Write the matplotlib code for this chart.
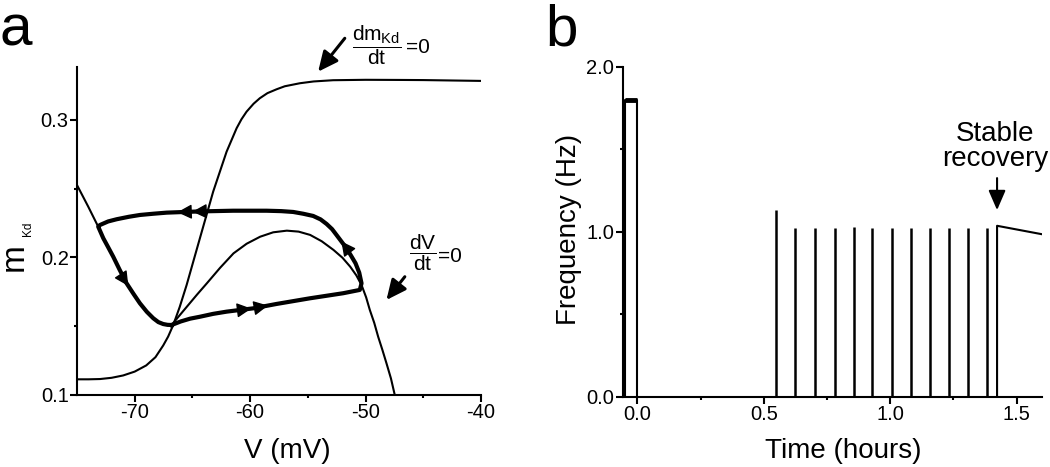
import numpy as np
import matplotlib
matplotlib.use('Agg')
import matplotlib.pyplot as plt
from matplotlib.ticker import FixedLocator

plt.rcParams['font.family'] = ['Liberation Sans', 'DejaVu Sans']
plt.rcParams['mathtext.fontset'] = 'custom'
plt.rcParams['mathtext.rm'] = 'Liberation Sans'
plt.rcParams['mathtext.it'] = 'Liberation Sans'
plt.rcParams['mathtext.sf'] = 'Liberation Sans'
plt.rcParams['mathtext.bf'] = 'Liberation Sans:bold'
plt.rcParams['axes.unicode_minus'] = False

# ---- panel a: phase plane (V in mV, m_Kd) ----
# dm_Kd/dt = 0 nullcline
mnull_v = [-75.0, -74.0, -73.0, -72.0, -71.0, -70.0, -69.0, -68.2, -67.53, -67.1, -66.66,
           -66.1, -65.50, -64.35, -63.20, -62.04, -61.17, -60.75, -60.31, -59.7, -59.16,
           -58.5, -57.71, -57.0, -55.69, -54.5, -52.81, -50.0, -47.04, -45.0, -40.0]
mnull_m = [0.1114, 0.1114, 0.1116, 0.1125, 0.1142, 0.1170, 0.1215, 0.1275, 0.1360, 0.1425, 0.1509,
           0.1640, 0.1800, 0.2140, 0.2479, 0.2769, 0.2940, 0.3005, 0.3060, 0.3118, 0.3158,
           0.3195, 0.3223, 0.3245, 0.3267, 0.3280, 0.3289, 0.3292, 0.3291, 0.3290, 0.3284]

# dV/dt = 0 nullcline
vnull_v = [-75.0, -74.02, -73.16, -72.72, -72.3, -71.86, -71.3, -70.70, -70.1, -69.55, -68.95,
           -68.39, -67.95, -67.53, -67.15, -66.80, -66.2, -65.48, -64.6, -63.75, -62.6, -61.44,
           -60.3, -59.13, -58.0, -56.82, -55.8, -54.80, -53.8, -52.78, -52.0, -51.33, -50.8,
           -50.35, -49.95, -49.63, -49.25, -48.91, -48.55, -48.19, -47.8, -47.47]
vnull_m = [0.2527, 0.2369, 0.2224, 0.2140, 0.2075, 0.2006, 0.1910, 0.1812, 0.1735, 0.1667, 0.1605,
           0.1558, 0.1530, 0.1516, 0.1510, 0.1509, 0.1570, 0.1642, 0.1730, 0.1812, 0.1925, 0.2030,
           0.2100, 0.2151, 0.2183, 0.2195, 0.2188, 0.2164, 0.2118, 0.2055, 0.1998, 0.1933, 0.1870,
           0.1800, 0.1710, 0.1618, 0.1525, 0.1424, 0.1330, 0.1231, 0.1120, 0.1000]

# limit cycle, four branches in the direction of travel
cyc_bottom_v = [-66.80, -66.0, -65.2, -64.35, -63.2, -62.04, -60.9, -59.74, -57.71, -54.83,
                -51.94, -50.50]
cyc_bottom_m = [0.1509, 0.1535, 0.1555, 0.1569, 0.1590, 0.1606, 0.1618, 0.1630, 0.1662, 0.1703,
                0.1740, 0.1764]
cyc_right_v = [-50.50, -50.35, -50.55, -50.87, -51.25, -51.65, -52.08, -52.52, -52.9, -53.38,
               -53.9, -54.54, -55.4, -56.27]
cyc_right_m = [0.1764, 0.1812, 0.1890, 0.1958, 0.2012, 0.2067, 0.2115, 0.2164, 0.2206, 0.2244,
               0.2277, 0.2302, 0.2318, 0.2331]
cyc_top_v = [-56.27, -57.3, -58.58, -61.47, -64.35, -67.23, -68.4, -69.55, -70.5, -71.56,
             -72.3, -73.01, -73.16]
cyc_top_m = [0.2331, 0.2337, 0.2340, 0.2340, 0.2335, 0.2326, 0.2318, 0.2309, 0.2296, 0.2278,
             0.2262, 0.2236, 0.2224]
cyc_left_v = [-73.16, -72.72, -72.3, -71.86, -71.3, -70.70, -70.1, -69.55, -68.95, -68.39,
              -67.95, -67.53, -67.15, -66.80]
cyc_left_m = [0.2224, 0.2140, 0.2075, 0.2006, 0.1910, 0.1812, 0.1735, 0.1667, 0.1605, 0.1558,
              0.1530, 0.1516, 0.1510, 0.1509]

# where the direction arrowheads sit on each branch (V position)
arrows_top = [-66.3, -65.0]
arrows_bottom = [-59.9, -58.45]
arrows_left = [-70.55]
arrows_right = [-52.1]

# ---- panel b: firing frequency over time ----
initial_t = [-0.048, -0.048, 0.0, 0.0]
initial_f = [0.0, 1.80, 1.80, 0.0]
spike_t = [0.548, 0.623, 0.702, 0.781, 0.857, 0.929, 1.006, 1.081, 1.157, 1.232, 1.308, 1.383]
spike_f = [1.131, 1.024, 1.024, 1.024, 1.026, 1.024, 1.024, 1.022, 1.024, 1.024, 1.024, 1.024]
recovery_t = [1.423, 1.423, 1.600]
recovery_f = [0.0, 1.036, 0.985]


def head_on_branch(ax, xs, ys, x_at, scale=16):
    # put a filled arrowhead on the polyline at V = x_at, pointing along the path
    for i in range(len(xs) - 1):
        if (xs[i] - x_at) * (xs[i + 1] - x_at) <= 0 and xs[i] != xs[i + 1]:
            t = (x_at - xs[i]) / (xs[i + 1] - xs[i])
            py = ys[i] + t * (ys[i + 1] - ys[i])
            d = ax.transData.transform([[xs[i], ys[i]], [xs[i + 1], ys[i + 1]]])
            u = (d[1] - d[0]) / np.hypot(*(d[1] - d[0]))
            ax.annotate('', xy=(x_at, py), xytext=(-u[0] * 8, -u[1] * 8),
                        textcoords='offset points',
                        arrowprops=dict(arrowstyle='-|>,head_length=0.55,head_width=0.28',
                                        mutation_scale=scale, color='k', lw=1,
                                        shrinkA=0, shrinkB=0))
            return


def style_axis(ax):
    for s in ['top', 'right']:
        ax.spines[s].set_visible(False)
    for s in ['left', 'bottom']:
        ax.spines[s].set_linewidth(1.5)
    ax.tick_params(which='major', length=5, width=1.5, labelsize=14.5, pad=1)
    ax.tick_params(which='minor', length=2, width=1.5)


fig = plt.figure(figsize=(10.5, 4.67), dpi=100)

# panel a
ax1 = fig.add_axes([0.0733, 0.1542, 0.3848, 0.7023])
ax1.plot(mnull_v, mnull_m, color='k', lw=1.5, solid_capstyle='butt')
ax1.plot(vnull_v, vnull_m, color='k', lw=1.5, solid_capstyle='butt')
loop_v = cyc_bottom_v + cyc_right_v[1:] + cyc_top_v[1:] + cyc_left_v[1:]
loop_m = cyc_bottom_m + cyc_right_m[1:] + cyc_top_m[1:] + cyc_left_m[1:]
ax1.plot(loop_v, loop_m, color='k', lw=3, solid_joinstyle='round')
ax1.set_xlim(-75, -40)
ax1.set_ylim(0.1, 0.3385)
style_axis(ax1)
ax1.xaxis.set_major_locator(FixedLocator([-70, -60, -50, -40]))
ax1.xaxis.set_minor_locator(FixedLocator([-65, -55, -45]))
ax1.yaxis.set_major_locator(FixedLocator([0.1, 0.2, 0.3]))
ax1.yaxis.set_minor_locator(FixedLocator([0.15, 0.25]))
ax1.set_xticklabels(['-70', '-60', '-50', '-40'])
ax1.set_yticklabels(['0.1', '0.2', '0.3'])
ax1.set_xlabel('V (mV)', fontsize=20)
ax1.xaxis.set_label_coords(0.52, -0.13)

for xa in arrows_top:
    head_on_branch(ax1, cyc_top_v, cyc_top_m, xa)
for xa in arrows_bottom:
    head_on_branch(ax1, cyc_bottom_v, cyc_bottom_m, xa)
for xa in arrows_left:
    head_on_branch(ax1, cyc_left_v, cyc_left_m, xa)
for xa in arrows_right:
    head_on_branch(ax1, cyc_right_v, cyc_right_m, xa)

big_head = dict(arrowstyle='-|>,head_length=0.6,head_width=0.28', mutation_scale=20,
                color='k', lw=2.2, shrinkA=0, shrinkB=0)
ax1.annotate('', xy=(-54.11, 0.3351), xytext=(-51.8, 0.3594), arrowprops=big_head,
             annotation_clip=False)
ax1.text(-49.07, 0.3545, r'$\dfrac{dm_{Kd}}{dt}$', fontsize=15, ha='center', va='center',
         clip_on=False)
ax1.text(-46.52, 0.3487, '=0', fontsize=15, ha='left', va='baseline', clip_on=False)
ax1.annotate('', xy=(-48.19, 0.1691), xytext=(-46.6, 0.186), arrowprops=big_head,
             annotation_clip=False)
ax1.text(-45.02, 0.2035, r'$\dfrac{dV}{dt}$', fontsize=15, ha='center', va='center',
         clip_on=False)
ax1.text(-43.74, 0.1969, '=0', fontsize=15, ha='left', va='baseline', clip_on=False)

# y label of panel a: large m with small Kd subscript
fig.text(14 / 1050, 1 - 257 / 467, 'm', fontsize=24, rotation=90, ha='center', va='center')
fig.text(28.5 / 1050, 1 - 229 / 467, 'Kd', fontsize=8.5, rotation=90, ha='center', va='center')

# panel b
ax2 = fig.add_axes([0.5930, 0.1505, 0.3992, 0.7066])
ax2.plot(initial_t, initial_f, color='k', lw=1.5)
ax2.plot(initial_t[1:3], [1.797, 1.797], color='k', lw=3.5, solid_capstyle='butt')
ax2.vlines(spike_t, 0, spike_f, color='k', lw=1.8)
ax2.plot(recovery_t, recovery_f, color='k', lw=1.5)
ax2.set_xlim(-0.058, 1.6)
ax2.set_ylim(0, 2.0)
style_axis(ax2)
ax2.xaxis.set_major_locator(FixedLocator([0.0, 0.5, 1.0, 1.5]))
ax2.xaxis.set_minor_locator(FixedLocator([0.25, 0.75, 1.25]))
ax2.yaxis.set_major_locator(FixedLocator([0.0, 1.0, 2.0]))
ax2.yaxis.set_minor_locator(FixedLocator([0.5, 1.5]))
ax2.set_xticklabels(['0.0', '0.5', '1.0', '1.5'])
ax2.set_yticklabels(['0.0', '1.0', '2.0'])
ax2.set_xlabel('Time (hours)', fontsize=20)
ax2.xaxis.set_label_coords(0.526, -0.125)
ax2.set_ylabel('Frequency (Hz)', fontsize=20)
ax2.yaxis.set_label_coords(-0.097, 0.508)

ax2.annotate('', xy=(1.423, 1.131), xytext=(1.423, 1.325),
             arrowprops=dict(arrowstyle='-|>,head_length=0.6,head_width=0.26',
                             mutation_scale=20, color='k', lw=1.5, shrinkA=0, shrinkB=0))
ax2.text(1.414, 1.362, 'Stable\nrecovery', fontsize=20, ha='center', va='bottom',
         linespacing=0.95, clip_on=False)

# panel letters
fig.text(0.0, 1 - 45 / 467, 'a', fontsize=42, ha='left', va='baseline')
fig.text(545 / 1050, 1 - 45 / 467, 'b', fontsize=42, ha='left', va='baseline')

fig.savefig('out.png', dpi=100)
